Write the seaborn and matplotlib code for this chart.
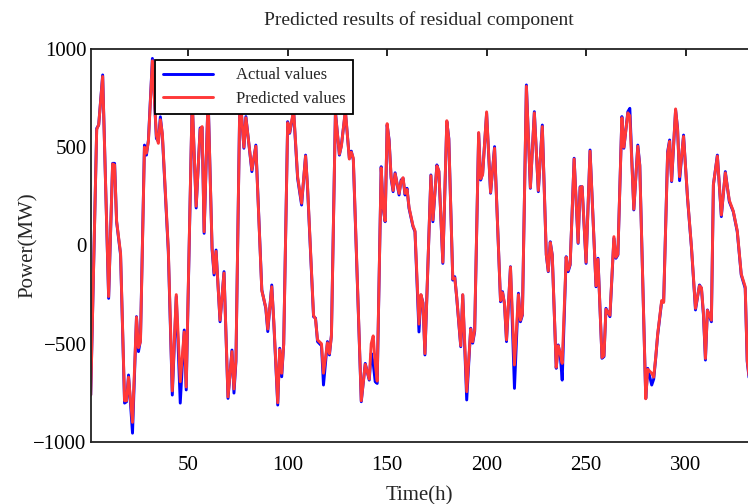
import pandas as pd
import seaborn as sns
import matplotlib
matplotlib.use('Agg')
import matplotlib.pyplot as plt

# vertex hours, with actual and predicted residual values (MW)
hours = [1, 4, 5, 7, 10, 12, 13, 14, 16, 18, 19, 20, 22, 24, 25, 26, 28, 29, 30, 32,
         34, 35, 36, 37, 40, 42, 44, 46, 48, 49, 52, 54, 56, 57, 58, 60, 62, 63, 64, 66,
         68, 70, 72, 73, 74, 76, 78, 79, 82, 84, 87, 89, 90, 92, 93, 95, 96, 97, 98, 100,
         101, 103, 105, 107, 109, 110, 113, 114, 115, 117, 118, 120, 121, 122, 124, 126, 127, 129, 131, 132,
         133, 137, 139, 141, 142, 143, 144, 145, 147, 148, 149, 150, 151, 152, 153, 154, 156, 157, 158, 159,
         160, 161, 163, 164, 166, 167, 168, 169, 172, 173, 175, 176, 178, 180, 181, 183, 184, 185, 187, 188,
         190, 192, 193, 194, 196, 197, 198, 200, 202, 204, 207, 208, 209, 210, 212, 214, 216, 217, 218, 220,
         222, 224, 226, 228, 230, 231, 232, 233, 235, 236, 237, 238, 240, 241, 242, 244, 246, 247, 248, 250,
         252, 255, 256, 258, 259, 260, 262, 264, 265, 266, 268, 269, 271, 272, 274, 276, 277, 280, 281, 283,
         284, 285, 286, 288, 289, 291, 292, 293, 295, 296, 297, 299, 301, 303, 305, 307, 308, 309, 310, 311,
         313, 314, 316, 318, 320, 322, 324, 325, 326, 328, 330, 331, 332]

actual = [-761, 596, 613, 868, -269, 418, 418, 121, -48, -802, -795, -659, -955, -362, -540, -481, 511, 460, 537, 952,
          545, 530, 655, 560, -31, -761, -260, -802, -430, -735, 740, 191, 598, 600, 62, 760, -20, -150, -23, -388,
          -133, -778, -532, -751, -590, 780, 495, 656, 376, 511, -226, -320, -438, -201, -388, -812, -523, -668, -500, 630,
          571, 681, 342, 206, 460, 291, -362, -370, -489, -510, -710, -489, -557, -455, 681, 460, 511, 681, 444, 480,
          435, -795, -600, -685, -549, -600, -693, -702, 401, 189, 121, 613, 537, 342, 274, 370, 257, 333, 342, 257,
          291, 189, 96, 70, -440, -252, -290, -557, 359, 121, 410, 376, -91, 630, 545, -176, -159, -269, -515, -252,
          -786, -421, -497, -438, 571, 333, 367, 673, 266, 503, -286, -235, -300, -489, -108, -727, -243, -388, -354, 817,
          291, 681, 274, 613, -48, -133, 19, -48, -625, -506, -557, -685, -57, -133, -99, 444, 11, 299, 299, -91,
          486, -210, -65, -574, -565, -320, -362, 37, -65, -48, 656, 495, 681, 698, 181, 511, 410, -778, -625, -710,
          -680, -574, -455, -286, -286, 477, 537, 325, 690, 596, 330, 562, 240, -14, -328, -201, -218, -354, -583, -328,
          -388, 308, 460, 147, 376, 223, 172, 121, 70, -150, -218, -591, -680]

predicted = [-761, 590, 615, 860, -260, 415, 410, 125, -40, -790, -790, -670, -900, -365, -520, -490, 500, 470, 530, 940,
             560, 520, 640, 570, -20, -740, -250, -693, -440, -720, 745, 200, 590, 605, 70, 750, -10, -140, -30, -380,
             -140, -770, -540, -730, -580, 770, 500, 650, 385, 505, -230, -315, -425, -210, -380, -800, -530, -650, -505, 625,
             575, 690, 350, 215, 455, 300, -355, -375, -480, -500, -650, -495, -550, -460, 675, 465, 505, 690, 440, 475,
             445, -790, -605, -680, -500, -460, -600, -690, 395, 195, 125, 620, 530, 350, 280, 365, 265, 325, 345, 265,
             285, 195, 100, 75, -400, -250, -295, -550, 355, 130, 405, 380, -85, 635, 540, -170, -165, -265, -510, -250,
             -744, -425, -490, -430, 575, 340, 360, 680, 270, 495, -280, -240, -295, -480, -110, -608, -250, -380, -350, 810,
             295, 675, 280, 605, -45, -130, 15, -50, -620, -510, -550, -600, -60, -125, -95, 440, 15, 295, 300, -85,
             480, -205, -70, -570, -560, -325, -355, 45, -60, -45, 650, 500, 675, 660, 185, 505, 405, -780, -630, -650,
             -670, -570, -450, -280, -290, 470, 530, 330, 695, 590, 350, 555, 245, -10, -320, -205, -215, -345, -575, -330,
             -380, 310, 455, 155, 370, 230, 175, 125, 75, -145, -210, -585, -670]

df = pd.DataFrame({'hour': hours, 'Actual values': actual, 'Predicted values': predicted})

sns.set_style('white')
plt.rcParams['font.family'] = ['Liberation Serif', 'DejaVu Serif']
plt.rcParams['axes.unicode_minus'] = True

fig = plt.figure(figsize=(7.48, 5.04), dpi=100)
ax = fig.add_axes([0.1213, 0.123, 0.8787, 0.7798])

sns.lineplot(data=df, x='hour', y='Actual values', color='#0000ff', lw=2.1,
             label='Actual values', ax=ax)
sns.lineplot(data=df, x='hour', y='Predicted values', color='#ff3838', lw=2.1,
             label='Predicted values', ax=ax)

ax.set_xlim(1, 331.4)
ax.set_ylim(-1000, 1000)
ax.set_xticks([50, 100, 150, 200, 250, 300])
ax.set_yticks([-1000, -500, 0, 500, 1000])
ax.tick_params(direction='in', length=5, width=1.2, labelsize=15, top=True, pad=3, colors='black')
ax.tick_params(axis='x', pad=10)
for side in ['left', 'bottom', 'top']:
    ax.spines[side].set_color('#222222')
    ax.spines[side].set_linewidth(1.3)
ax.spines['right'].set_visible(False)

ax.set_title('Predicted results of residual component', fontsize=14, pad=17)
ax.set_xlabel('Time(h)', fontsize=15, labelpad=8)
ax.set_ylabel('Power(MW)', fontsize=15, labelpad=-3)

leg = ax.legend(loc='upper left', bbox_to_anchor=(0.098, 0.972), borderaxespad=0,
                fontsize=12, handlelength=3.0, handletextpad=1.4, frameon=True, fancybox=False,
                edgecolor='black', framealpha=1, borderpad=0.45, labelspacing=0.45)
leg.get_frame().set_linewidth(1.3)

fig.savefig('out.png', dpi=100)
